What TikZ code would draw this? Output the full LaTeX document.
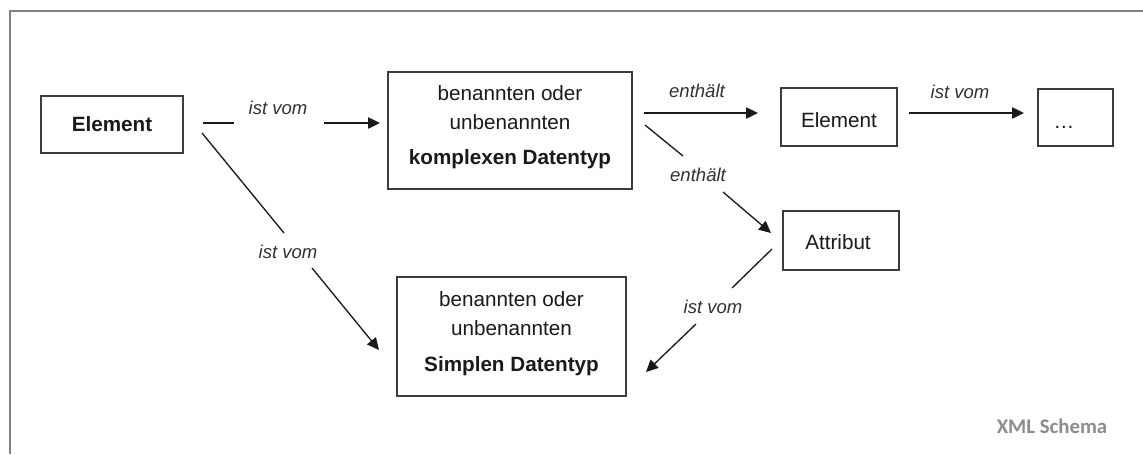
\documentclass[tikz,border=0pt]{standalone}
\usepackage{fontspec}
\setmainfont{Liberation Sans}
\newfontfamily\markfont{Carlito}
\usetikzlibrary{arrows.meta}
\definecolor{framegrey}{HTML}{808080}
\definecolor{ink}{HTML}{1A1A1A}
\definecolor{markgrey}{HTML}{8C8C8C}
\begin{document}
\begin{tikzpicture}[x=0.75pt,y=-0.75pt,
  box/.style={draw=ink!85, line width=1.3pt, fill=white, inner sep=0pt},
  boxtext/.style={font=\fontsize{15.5}{21.75}\selectfont, text=ink, align=center, inner sep=0pt},
  rel/.style={font=\fontsize{13.9}{16}\selectfont\itshape, text=ink!90, inner sep=0pt},
  conn/.style={draw=ink, line width=1pt},
  arr/.style={conn, -{Triangle[length=9pt,width=8.5pt]}}]
\useasboundingbox (0,0) rectangle (1143,454);

% frame
\draw[framegrey, line width=1.8pt] (10,454) -- (10,11) -- (1143,11);

% boxes
\node[box, boxtext, minimum width=142*0.75pt, minimum height=57*0.75pt] (elem) at (112,124.5) {\textbf{Element}};
\node[box, minimum width=244*0.75pt, minimum height=117*0.75pt] (complex) at (510,130.5) {};
\node[boxtext] (complextxt) at (510,127)
  {benannten oder\\unbenannten\\[5pt]\textbf{komplexen Datentyp}};
\node[box, minimum width=229*0.75pt, minimum height=119*0.75pt] (simple) at (511.5,336.5) {};
\node[boxtext] (simpletxt) at (511.5,333.5)
  {benannten oder\\unbenannten\\[5pt]\textbf{Simplen Datentyp}};
\node[box, minimum width=116*0.75pt, minimum height=58*0.75pt] (elem2) at (839,117) {};
\node[boxtext] (elem2txt) at (839,120) {Element};
\node[box, minimum width=116*0.75pt, minimum height=59*0.75pt] (attr) at (841,240.5) {};
\node[boxtext] (attrtxt) at (838,242) {Attribut};
\node[box, minimum width=75*0.75pt, minimum height=57*0.75pt] (more) at (1075.5,117.5) {};
\node[boxtext, anchor=base] (dots) at (1064,128) {…};

% relation labels
\node[rel] (l1) at (278,108) {ist vom};
\node[rel] (l2) at (288,252) {ist vom};
\node[rel] (l3) at (697,91) {enthält};
\node[rel] (l4) at (698,175) {enthält};
\node[rel] (l5) at (713,307) {ist vom};
\node[rel] (l6) at (960,92) {ist vom};

% connector end points around the labels
\coordinate (c1a) at (203,123);  \coordinate (c1b) at (234,123);
\coordinate (c1c) at (324,123);  \coordinate (c1d) at (380,123);
\coordinate (c2a) at (202,133);  \coordinate (c2b) at (284,233);
\coordinate (c2c) at (312,268);  \coordinate (c2d) at (379,350);
\coordinate (c3a) at (644,113);  \coordinate (c3d) at (758,113);
\coordinate (c4a) at (645,125);  \coordinate (c4b) at (683,156);
\coordinate (c4c) at (723,192);  \coordinate (c4d) at (771,233);
\coordinate (c5a) at (772,249);  \coordinate (c5b) at (732,288);
\coordinate (c5c) at (696,324);  \coordinate (c5d) at (646,372);
\coordinate (c6a) at (909,113);  \coordinate (c6d) at (1024,113);

% connectors
\draw[conn] (c1a) -- (c1b);  \draw[arr] (c1c) -- (c1d);
\draw[conn] (c2a) -- (c2b);  \draw[arr] (c2c) -- (c2d);
\draw[arr] (c3a) -- (c3d);
\draw[conn] (c4a) -- (c4b);  \draw[arr] (c4c) -- (c4d);
\draw[conn] (c5a) -- (c5b);  \draw[arr] (c5c) -- (c5d);
\draw[arr] (c6a) -- (c6d);

% caption mark
\node[font=\markfont\bfseries\fontsize{15.6}{18}\selectfont, text=markgrey, inner sep=0pt] (mark) at (1052,426) {XML Schema};
\end{tikzpicture}
\end{document}
